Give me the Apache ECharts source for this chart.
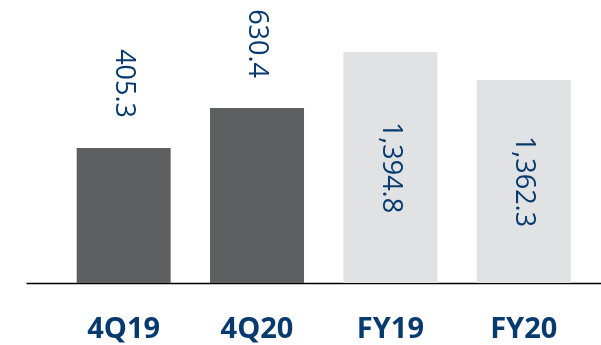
<!DOCTYPE html>
<html>
<head>
<meta charset="utf-8">
<script src="https://cdn.jsdelivr.net/npm/echarts@6/dist/echarts.min.js"></script>
<style>
html,body{margin:0;padding:0;background:#fff;}
#chart{width:601px;height:345px;}
</style>
</head>
<body>
<div id="chart"></div>
<script>
// ---- data ----
var categories = ['4Q19', '4Q20', 'FY19', 'FY20'];
var quarterValues = [405.3, 630.4, null, null];
var fullYearValues = [null, null, 1394.8, 1362.3];
var valueLabels = ['405.3', '630.4', '1,394.8', '1,362.3'];

// ---- style ----
var NAVY = '#073b6f';
var DARK = '#5e5f61';
var LIGHT = '#e1e2e4';
var FONT = '"Open Sans", "Noto Sans", sans-serif';

var chart = echarts.init(document.getElementById('chart'), null, {renderer: 'canvas'});

function labelFor(params) { return valueLabels[params.dataIndex]; }

var option = {
  animation: false,
  backgroundColor: '#ffffff',
  grid: [
    {left: 57, right: 10.6, top: 0, bottom: 62, containLabel: false},
    {left: 27, right: 0, top: 0, bottom: 62, containLabel: false}
  ],
  xAxis: [
    {
      type: 'category', gridIndex: 0, data: categories,
      axisLine: {show: false}, axisTick: {show: false},
      axisLabel: {color: NAVY, fontFamily: FONT, fontWeight: 'bold', fontSize: 29, margin: 32}
    },
    {
      type: 'value', gridIndex: 1, min: 0, max: 1,
      axisLine: {show: true, onZero: false, lineStyle: {color: '#000000', width: 1.3}},
      axisTick: {show: false}, axisLabel: {show: false}, splitLine: {show: false}
    }
  ],
  yAxis: [
    {type: 'value', gridIndex: 0, min: -354.4, max: 1238, startValue: -354.4, show: false, splitLine: {show: false}},
    {type: 'value', gridIndex: 0, min: 1126.7, max: 1455.2, startValue: 1126.7, show: false, splitLine: {show: false}},
    {type: 'value', gridIndex: 1, show: false, splitLine: {show: false}}
  ],
  series: [
    {
      type: 'bar', name: 'Quarter', xAxisIndex: 0, yAxisIndex: 0,
      data: quarterValues, barWidth: 94, barGap: '-100%',
      itemStyle: {color: DARK},
      label: {
        show: true, position: 'top', distance: 30, rotate: -90,
        align: 'right', verticalAlign: 'middle',
        color: NAVY, fontFamily: FONT, fontSize: 27, formatter: labelFor
      }
    },
    {
      type: 'bar', name: 'Full year', xAxisIndex: 0, yAxisIndex: 1,
      data: fullYearValues, barWidth: 94, barGap: '-100%',
      itemStyle: {color: LIGHT},
      label: {
        show: true, position: 'inside', rotate: -90,
        align: 'center', verticalAlign: 'middle',
        color: NAVY, fontFamily: FONT, fontSize: 27, formatter: labelFor
      }
    }
  ]
};
chart.setOption(option);
</script>
</body>
</html>
